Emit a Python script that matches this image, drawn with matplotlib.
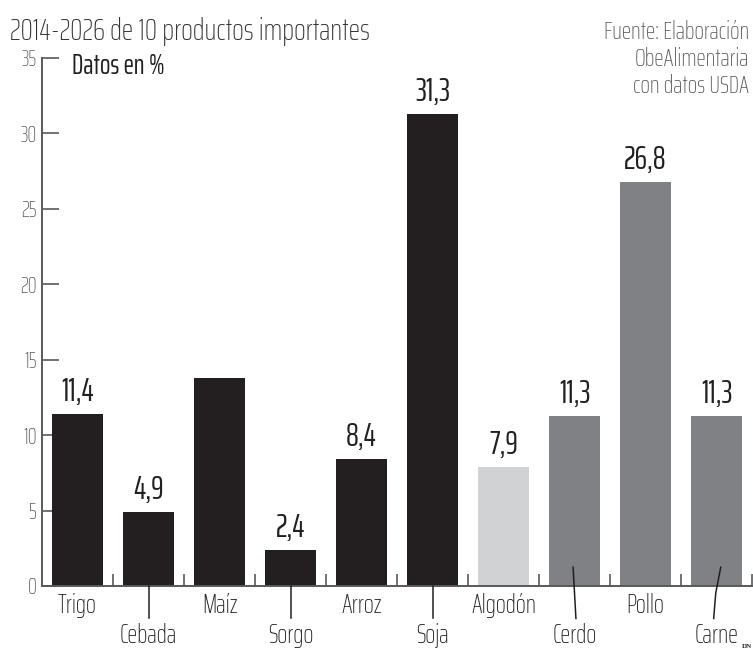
import matplotlib
matplotlib.use("Agg")
import matplotlib.pyplot as plt

# ---- data ----
categories = ["Trigo", "Cebada", "Maíz", "Sorgo", "Arroz", "Soja",
              "Algodón", "Cerdo", "Pollo", "Carne"]
values = [11.4, 4.9, 13.8, 2.4, 8.4, 31.3, 7.9, 11.3, 26.8, 11.3]
value_labels = ["11,4", "4,9", "", "2,4", "8,4", "31,3", "7,9", "11,3", "26,8", "11,3"]
groups = ["grano", "grano", "grano", "grano", "grano", "grano",
          "fibra", "carne", "carne", "carne"]
yticks = [0, 5, 10, 15, 20, 25, 30, 35]

subtitle = "2014-2026 de 10 productos importantes"
source = "Fuente: Elaboración\nObeAlimentaria\ncon datos USDA"
unit_label = "Datos en %"

# ---- style ----
FONT = ["Saira ExtraCondensed", "DejaVu Sans"]
plt.rcParams["font.family"] = FONT

colors = {"grano": "#231f20", "fibra": "#d1d2d4", "carne": "#808184"}
axis_color = "#58595b"
text_dark = "#231f20"

fig = plt.figure(figsize=(7.53, 6.51), dpi=100)
ax = fig.add_axes([42 / 753, 1 - 586 / 651, 710 / 753, (586 - 58) / 651])

x = list(range(len(categories)))
ax.bar(x, values, width=0.73, color=[colors[g] for g in groups], zorder=2)

ax.set_xlim(-0.5, len(categories) - 0.5)
ax.set_ylim(0, 35)

for s in ["top", "right"]:
    ax.spines[s].set_visible(False)
for s in ["left", "bottom"]:
    ax.spines[s].set_color(axis_color)
    ax.spines[s].set_linewidth(1.4)

ax.set_yticks(yticks)
ax.set_yticklabels([str(t) for t in yticks], fontweight="light")
ax.tick_params(axis="y", direction="in", length=12, width=1.2, color=axis_color,
               labelcolor=axis_color, labelsize=16, pad=4)
ax.set_xticks([i + 0.5 for i in x])
ax.set_xticklabels([])
ax.tick_params(axis="x", direction="in", length=8.5, width=1.2, color=axis_color)

# value labels
for i, (v, lab) in enumerate(zip(values, value_labels)):
    if lab:
        ax.annotate(lab, (i, v), xytext=(0, 5), textcoords="offset points",
                    ha="center", va="bottom", fontsize=23, color=text_dark)

# category labels, alternating rows with leader lines
for i, cat in enumerate(categories):
    if i % 2 == 0:
        ax.text(i, -1.3, cat, ha="center", va="center", fontsize=19,
                fontweight="light", color=text_dark, clip_on=False)
    else:
        ax.text(i, -3.3, cat, ha="center", va="center", fontsize=19,
                fontweight="light", color=text_dark, clip_on=False)
        top = 1.25 if groups[i] == "carne" else 0
        if cat == "Cerdo":
            xs = [i - 0.02, i + 0.0, i + 0.02]
        elif cat == "Carne":
            xs = [i + 0.06, i - 0.01, i - 0.04]
        else:
            xs = [i, i, i]
        ys = [top, (top - 2.15) / 2, -2.15]
        ax.plot(xs, ys, color=text_dark, lw=1.1, clip_on=False, zorder=3)

# texts
fig.text(10 / 753, 1 - 31 / 651, subtitle, fontsize=22, fontweight="light",
         color="#333333", ha="left", va="center")
fig.text(749 / 753, 1 - 59 / 651, source, fontsize=18, fontweight="light",
         color=axis_color, ha="right", va="center", linespacing=1.15)
fig.text(72 / 753, 1 - 66 / 651, unit_label, fontsize=20, color=text_dark,
         ha="left", va="center")
fig.text(752 / 753, 1 - 647 / 651, "DN", fontsize=5, color=text_dark,
         ha="right", va="center", family="Liberation Serif", weight="bold")

fig.savefig("out.png", dpi=100)
